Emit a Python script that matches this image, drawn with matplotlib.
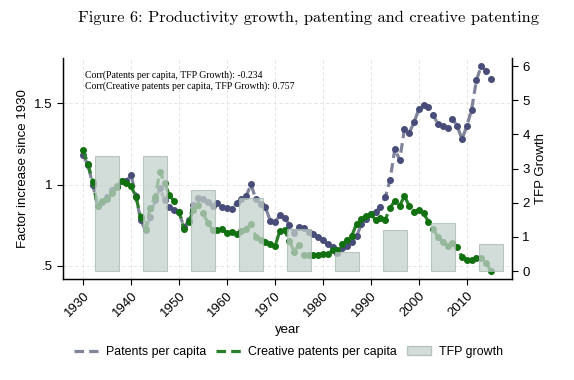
import matplotlib
matplotlib.use("Agg")
import matplotlib.pyplot as plt
from matplotlib.lines import Line2D
from matplotlib.patches import Patch
import numpy as np

years = list(range(1930, 2016))
patents = [1.18, 1.12, 1.00, 0.87, 0.89, 0.925, 0.965, 0.99, 1.02, 1.02,
           1.058, 0.93, 0.78, 0.72, 0.80, 0.905, 0.977, 0.905, 0.864, 0.843,
           0.833, 0.737, 0.78, 0.874, 0.915, 0.91, 0.89, 0.87, 0.885, 0.865,
           0.854, 0.852, 0.885, 0.91, 0.93, 1.001, 0.91, 0.88, 0.861, 0.778,
           0.77, 0.81, 0.797, 0.752, 0.70, 0.741, 0.735, 0.71, 0.696, 0.676,
           0.66, 0.635, 0.618, 0.58, 0.612, 0.62, 0.645, 0.682, 0.755, 0.786,
           0.818, 0.833, 0.864, 0.922, 1.03, 1.22, 1.15, 1.34, 1.318, 1.382,
           1.463, 1.488, 1.474, 1.426, 1.371, 1.359, 1.35, 1.405, 1.359, 1.279,
           1.359, 1.46, 1.64, 1.727, 1.70, 1.645]
creative = [1.21, 1.126, 1.017, 0.868, 0.90, 0.91, 0.946, 0.987, 1.023, 1.007,
            0.99, 0.925, 0.80, 0.73, 0.854, 0.925, 1.079, 1.007, 0.935, 0.896,
            0.833, 0.725, 0.77, 0.843, 0.874, 0.823, 0.766, 0.72, 0.72, 0.725,
            0.705, 0.71, 0.694, 0.717, 0.725, 0.76, 0.68, 0.66, 0.65, 0.635,
            0.62, 0.715, 0.72, 0.655, 0.588, 0.63, 0.567, 0.567, 0.57, 0.57,
            0.575, 0.574, 0.598, 0.598, 0.632, 0.66, 0.684, 0.758, 0.79, 0.807,
            0.82, 0.78, 0.795, 0.785, 0.857, 0.90, 0.87, 0.93, 0.868, 0.833,
            0.843, 0.823, 0.772, 0.727, 0.676, 0.65, 0.623, 0.643, 0.615, 0.553,
            0.537, 0.537, 0.547, 0.547, 0.52, 0.47]
tfp_years = [1935, 1945, 1955, 1965, 1975, 1985, 1995, 2005, 2015]
tfp_growth = [3.36, 3.36, 2.37, 2.13, 1.23, 0.56, 1.20, 1.40, 0.79]

left_ticks = [0.5, 1.0, 1.5]
left_labels = [".5", "1", "1.5"]
x_ticks = [1930, 1940, 1950, 1960, 1970, 1980, 1990, 2000, 2010]
right_ticks = [0, 1, 2, 3, 4, 5, 6]

sans = "Liberation Sans"
plt.rcParams['font.family'] = sans

fig = plt.figure(figsize=(5.74, 3.80), dpi=100)
ax = fig.add_axes([0.1098, 0.2658, 0.782, 0.5812])
ax2 = ax.twinx()

blue_line = "#80849a"
blue_mk = "#474d78"
green_line = "#2a7f2a"
green_mk = "#11700f"

ax.plot(years, patents, linestyle=(0, (3, 1.6)), color=blue_line, lw=2.3,
        marker="o", ms=4.0, mfc=blue_mk, mec=blue_mk, zorder=3)
ax.plot(years, creative, linestyle=(0, (3, 1.6)), color=green_line, lw=2.3,
        marker="o", ms=4.0, mfc=green_mk, mec=green_mk, zorder=4)

ax2.bar(tfp_years, tfp_growth, width=5, color="#c3d1cb", alpha=0.75,
        edgecolor="#a8b8b1", linewidth=0.8)

ax.set_xlim(1925.8, 2019.4)
ax.set_ylim(0.42, 1.776)
ax2.set_ylim(-0.23, 6.23)

ax.set_xticks(x_ticks)
ax.set_xticklabels([str(x) for x in x_ticks], rotation=45, ha="right",
                   rotation_mode="anchor", fontsize=9.5)
ax.set_yticks(left_ticks)
ax.set_yticklabels(left_labels, fontsize=9.5)
ax2.set_yticks(right_ticks)
ax2.set_yticklabels([str(t) for t in right_ticks], fontsize=9.5)

ax.grid(True, color="#e0e0e0", linestyle=(0, (4, 3)), linewidth=0.6)
ax.set_axisbelow(True)

for a in (ax, ax2):
    a.spines['top'].set_visible(False)
    for s in ('left', 'right', 'bottom'):
        a.spines[s].set_linewidth(0.9)
ax.tick_params(length=4, width=0.8)
ax2.tick_params(length=4, width=0.8)

ax.set_xlabel("year", fontsize=9.5)
ax.set_ylabel("Factor increase since 1930", fontsize=9.5)
ax2.set_ylabel("TFP Growth", fontsize=9.5)

ax.text(0.05, 0.945, "Corr(Patents per capita, TFP Growth): -0.234\n"
        "Corr(Creative patents per capita, TFP Growth): 0.757",
        transform=ax.transAxes, fontsize=7, family="Liberation Serif",
        va="top", ha="left", linespacing=1.15)

fig.text(0.537, 0.952, "Figure 6: Productivity growth, patenting and creative patenting",
         ha="center", va="center", fontsize=11.8, family=["cmr10", "DejaVu Serif"])

handles = [Line2D([0], [0], color=blue_line, lw=2.3, linestyle=(0, (3, 1.6))),
           Line2D([0], [0], color=green_line, lw=2.3, linestyle=(0, (3, 1.6))),
           Patch(facecolor="#c3d1cb", edgecolor="#a8b8b1", alpha=0.75)]
fig.legend(handles, ["Patents per capita", "Creative patents per capita", "TFP growth"],
           loc="center", bbox_to_anchor=(0.502, 0.074), ncol=3, frameon=False,
           fontsize=8.9, handlelength=2.0, columnspacing=0.8, handletextpad=0.6)

fig.savefig("out.png", dpi=100)
